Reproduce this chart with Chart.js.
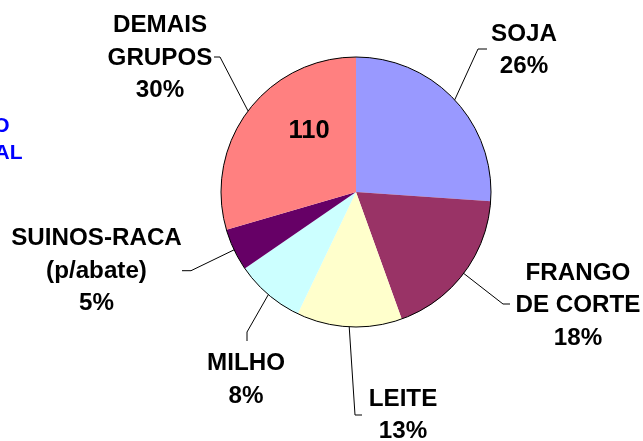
<!DOCTYPE html>
<html>
<head>
<meta charset="utf-8">
<script src="https://cdn.jsdelivr.net/npm/chart.js@4/dist/chart.umd.min.js"></script>
<style>
  html, body { margin: 0; padding: 0; background: #fff; }
  #wrap { position: relative; width: 643px; height: 441px; }
</style>
</head>
<body>
<div id="wrap"><canvas id="pie"></canvas></div>
<script>
// data
const categories = [['SOJA'], ['FRANGO', 'DE CORTE'], ['LEITE'], ['MILHO'], ['SUINOS-RACA', '(p/abate)'], ['DEMAIS', 'GRUPOS']];
const shares = [26.1, 18.4, 12.6, 8.3, 5.1, 29.5];
const sliceColors = ['#9999FF', '#993366', '#FFFFCC', '#CCFFFF', '#660066', '#FF8080'];
const innerNote = '110'; // number written inside the DEMAIS slice
const sideTitle = ['O', 'AL']; // cut-off title at the left edge

const FONT = 'bold 24.2px "Liberation Sans", Arial, sans-serif';
const LINE_H = 32.3;

// label placement: elbow of leader, end of leader, text centre x, first line y
const labelLayout = [
  { elbow: [478, 49], end: [487, 49], cx: 524, y0: 34 },
  { elbow: [503, 304], end: [510, 304], cx: 578, y0: 273.5 },
  { elbow: [355, 415], end: [362, 415], cx: 403, y0: 399.5 },
  { elbow: [247, 332], end: [247, 341], cx: 246, y0: 363.7 },
  { elbow: [191, 270.7], end: [182, 270.7], cx: 96.5, y0: 238.7 },
  { elbow: [220, 57], end: [214, 57], cx: 160, y0: 25.7 }
];

const pieDecor = {
  id: 'pieDecor',
  afterDatasetsDraw(chart) {
    const ctx = chart.ctx;
    const arcs = chart.getDatasetMeta(0).data;
    const total = shares.reduce((a, b) => a + b, 0);
    const { x, y, outerRadius } = arcs[0].getProps(['x', 'y', 'outerRadius'], true);

    ctx.save();
    // outer outline
    ctx.beginPath();
    ctx.arc(x, y, outerRadius, 0, Math.PI * 2);
    ctx.lineWidth = 1;
    ctx.strokeStyle = '#000';
    ctx.stroke();

    // leader lines + labels
    ctx.font = FONT;
    ctx.fillStyle = '#000';
    ctx.textAlign = 'center';
    ctx.textBaseline = 'middle';
    arcs.forEach((arc, i) => {
      const p = arc.getProps(['startAngle', 'endAngle'], true);
      const mid = (p.startAngle + p.endAngle) / 2;
      const L = labelLayout[i];
      ctx.beginPath();
      ctx.moveTo(x + Math.cos(mid) * outerRadius, y + Math.sin(mid) * outerRadius);
      ctx.lineTo(L.elbow[0], L.elbow[1]);
      ctx.lineTo(L.end[0], L.end[1]);
      ctx.lineWidth = 1;
      ctx.strokeStyle = '#000';
      ctx.stroke();

      const lines = categories[i].concat([Math.round(shares[i] / total * 100) + '%']);
      lines.forEach((t, k) => ctx.fillText(t, L.cx, L.y0 + k * LINE_H));
    });

    // number inside the DEMAIS slice
    ctx.font = 'bold 25.5px "Liberation Sans", Arial, sans-serif';
    ctx.fillText(innerNote, 309, 131);

    // cut-off blue title on the left
    ctx.font = 'bold 21px "Liberation Sans", Arial, sans-serif';
    ctx.fillStyle = '#0000FF';
    ctx.textAlign = 'right';
    ctx.fillText(sideTitle[0], 9.5, 126);
    ctx.fillText(sideTitle[1], 22.5, 153);
    ctx.restore();
  }
};

new Chart(document.getElementById('pie'), {
  type: 'pie',
  data: {
    labels: categories.map(c => c.join(' ')),
    datasets: [{
      data: shares,
      backgroundColor: sliceColors,
      borderWidth: 0
    }]
  },
  options: {
    responsive: true,
    maintainAspectRatio: false,
    animation: false,
    layout: { padding: { left: 221, right: 152, top: 57, bottom: 114 } },
    plugins: {
      legend: { display: false },
      tooltip: { enabled: false }
    }
  },
  plugins: [pieDecor]
});
</script>
</body>
</html>
